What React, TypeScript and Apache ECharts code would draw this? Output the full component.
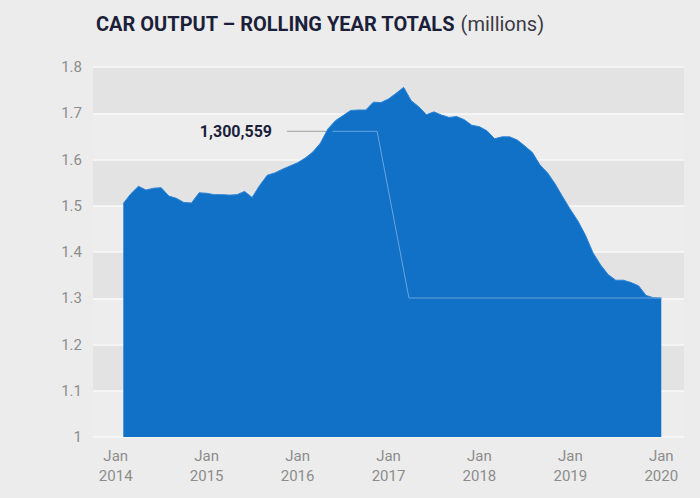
import React, { useEffect, useRef } from "react";
import * as echarts from "echarts";

// Rolling-year car output (millions), monthly from Feb 2014 to Jan 2020
const values: number[] = [
  1.505, 1.526, 1.542, 1.534, 1.538, 1.539, 1.521, 1.516, 1.507, 1.506,
  1.528, 1.527, 1.524, 1.524, 1.523, 1.524, 1.531, 1.518, 1.544, 1.566,
  1.571, 1.579, 1.586, 1.593, 1.603, 1.616, 1.635, 1.666, 1.684, 1.695,
  1.706, 1.707, 1.707, 1.724, 1.723, 1.731, 1.743, 1.756, 1.727, 1.714,
  1.697, 1.703, 1.696, 1.691, 1.693, 1.686, 1.674, 1.671, 1.662, 1.645,
  1.649, 1.649, 1.642, 1.629, 1.615, 1.588, 1.571, 1.547, 1.519, 1.492,
  1.467, 1.436, 1.398, 1.372, 1.351, 1.339, 1.339, 1.334, 1.327, 1.306,
  1.301, 1.300,
];

const monthNames = ["Jan", "Feb", "Mar", "Apr", "May", "Jun", "Jul", "Aug", "Sep", "Oct", "Nov", "Dec"];
// axis runs Oct 2013 .. Apr 2020; data begins at Feb 2014
const axisStartYear = 2013;
const axisStartMonth = 9;
const axisLength = 79;
const dataOffset = 4;

const categories: string[] = [];
for (let k = 0; k < axisLength; k++) {
  const mm = axisStartMonth + k;
  categories.push(monthNames[mm % 12] + " " + (axisStartYear + Math.floor(mm / 12)));
}

const tickLabels = ["Jan 2014", "Jan 2015", "Jan 2016", "Jan 2017", "Jan 2018", "Jan 2019", "Jan 2020"];
const yTicks = { min: 1, max: 1.8, interval: 0.1 };

const annotationValue = 1300559;
const annotationLevel = 1.661;
// annotation path in month units (0 = Feb 2014)
const annotationX = [21.6, 33.5, 37.7, 71];
const annotationBlueStart = 27.6;

const titleMain = "CAR OUTPUT \u2013 ROLLING YEAR TOTALS";
const titleSub = "(millions)";

export default function App() {
  const ref = useRef<HTMLDivElement>(null);
  useEffect(() => {
    if (!ref.current) return;
    const chart = echarts.init(ref.current, null, { renderer: "svg" });
    const seriesData = categories.map((_, k) => {
      const i = k - dataOffset;
      return i >= 0 && i < values.length ? values[i] : null;
    });
    const v = annotationValue / 1e6;
    const grayPath = [
      [annotationX[0], annotationLevel],
      [annotationX[1], annotationLevel],
      [annotationX[2], v],
      [annotationX[3], v],
    ];
    const bluePath = [
      [annotationBlueStart, annotationLevel],
      [annotationX[1], annotationLevel],
      [annotationX[2], v],
      [annotationX[3], v],
    ];
    const font = "Roboto";
    chart.setOption({
      animation: false,
      backgroundColor: "#ececec",
      title: [
        {
          left: 91,
          top: 9,
          text: "{a|" + titleMain + "} {b|" + titleSub + "}",
          textStyle: {
            rich: {
              a: { fontFamily: font, fontWeight: "bold", fontSize: 20, color: "#1b1f3a" },
              b: { fontFamily: font, fontWeight: "normal", fontSize: 20, color: "#3a3a44" },
            },
          },
        },
        {
          right: 700 - 272,
          top: 123,
          text: annotationValue.toLocaleString("en-US"),
          textStyle: { fontFamily: font, fontWeight: "bold", fontSize: 16, color: "#1b1f3a" },
          padding: 0,
          z: 10,
        },
      ],
      grid: { left: 93, right: 16, top: 67, bottom: 61, containLabel: false, outerBoundsMode: "none" },
      xAxis: [
        {
          type: "category",
          data: categories,
          boundaryGap: false,
          axisLine: { show: false },
          axisTick: { show: false },
          splitLine: { show: false },
          axisLabel: {
            interval: (_idx: number, val: string) => tickLabels.indexOf(val) >= 0,
            formatter: (val: string) => val.replace(" ", "\n"),
            color: "#8c8c8c",
            fontFamily: font,
            fontSize: 15,
            lineHeight: 20,
            margin: 9,
          },
        },
        {
          type: "value",
          min: -dataOffset,
          max: axisLength - 1 - dataOffset,
          show: false,
        },
      ],
      yAxis: {
        type: "value",
        min: yTicks.min,
        max: yTicks.max,
        interval: yTicks.interval,
        axisLine: { show: false },
        axisTick: { show: false },
        axisLabel: {
          color: "#8c8c8c",
          fontFamily: font,
          fontSize: 15,
          margin: 11,
          formatter: (val: number) => String(Math.round(val * 10) / 10),
        },
        splitLine: { show: true, lineStyle: { color: "#f8f8f8", width: 1.5 } },
        splitArea: { show: true, areaStyle: { color: ["#ededed", "#e3e3e3"] } },
      },
      series: [
        {
          type: "line",
          xAxisIndex: 1,
          data: grayPath,
          symbol: "none",
          z: 1,
          lineStyle: { color: "#9e9e9e", width: 1 },
          silent: true,
        },
        {
          type: "line",
          xAxisIndex: 0,
          data: seriesData,
          symbol: "none",
          z: 2,
          lineStyle: { color: "#2d84d6", width: 1 },
          areaStyle: { color: "#1071c7", opacity: 1, origin: "start" },
        },
        {
          type: "line",
          xAxisIndex: 1,
          data: bluePath,
          symbol: "none",
          z: 3,
          lineStyle: { color: "#68a5de", width: 1 },
          silent: true,
        },
      ],
    });
    return () => chart.dispose();
  }, []);
  return <div ref={ref} style={{ position: "absolute", left: 0, top: 0, width: 700, height: 498 }} />;
}
